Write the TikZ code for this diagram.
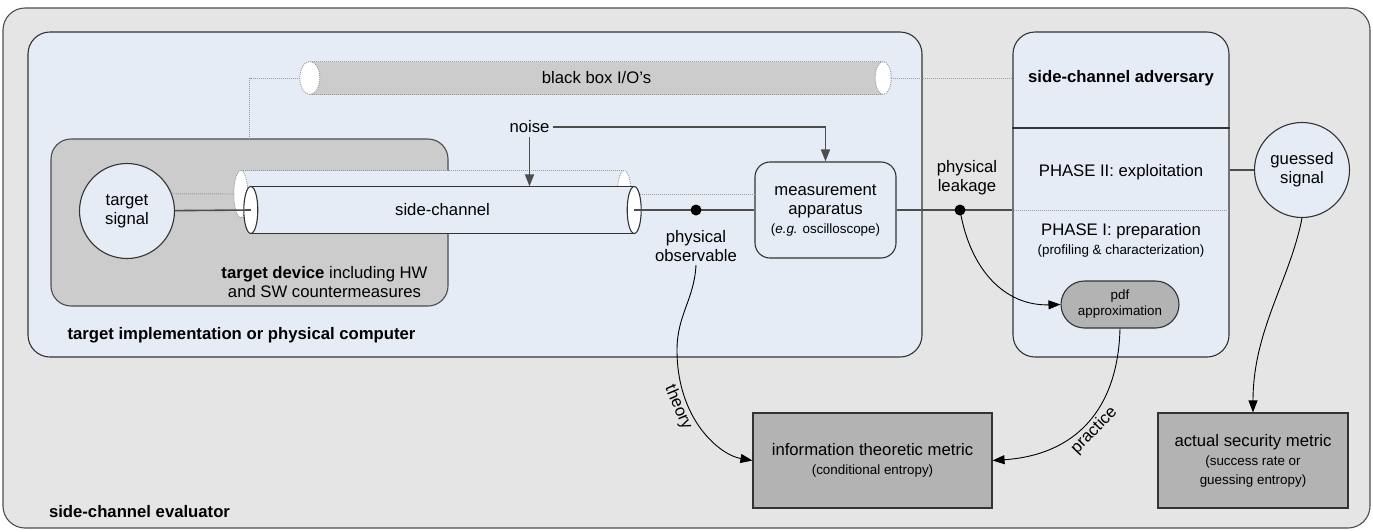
\documentclass[tikz,border=0pt]{standalone}
\usepackage{fontspec}
\setmainfont{Liberation Sans}
\usetikzlibrary{arrows.meta,calc}
\definecolor{evalgray}{HTML}{E5E5E5}
\definecolor{lblue}{HTML}{E6ECF6}
\definecolor{devgray}{HTML}{CCCCCC}
\definecolor{metgray}{HTML}{B3B3B3}
\definecolor{linec}{HTML}{333333}
\definecolor{conc}{HTML}{4D4D4D}
\definecolor{dotc}{HTML}{9A9A9A}
\newcommand\myfont{\fontsize{16.7}{19}\selectfont}
\newcommand\mysmall{\fontsize{13.4}{16}\selectfont}
\begin{document}
\begin{tikzpicture}[x=1pt,y=-1pt,
  every node/.style={font=\myfont, text=black},
  box/.style={draw=linec, line width=1.1pt, inner sep=0pt},
  con/.style={draw=conc, line width=1.6pt},
  dots/.style={draw=dotc, line width=0.9pt, dash pattern=on 1pt off 1pt},
  arr/.style={draw=black, line width=0.9pt, -{Triangle[length=12pt,width=9pt]}},
  conarr/.style={con, -{Triangle[length=12pt,width=9pt]}},
  tube/.style={inner sep=0pt, minimum width=383pt, minimum height=47pt},
  ]
\useasboundingbox (0,0) rectangle (1373,531);
% containers
\node[box, draw=conc, fill=evalgray, rounded corners=22pt, minimum width=1367pt, minimum height=520pt] (ev) at (686.5,268) {};
\node[box, fill=lblue, rounded corners=22pt, minimum width=894pt, minimum height=325pt] (ti) at (475,194.5) {};
\node[box, fill=lblue, rounded corners=22pt, minimum width=216pt, minimum height=325pt] (adv) at (1121,194.5) {};
\node[box, draw=conc, fill=devgray, rounded corners=20pt, minimum width=397pt, minimum height=167pt] (td) at (249.5,222.5) {};
% container labels
\node (evl) at (139.5,512) {\bfseries side-channel evaluator};
\node (til) at (241.5,335) {\bfseries target implementation or physical computer};
\node[align=center] (tdl) at (324.5,282.5) {\textbf{target device} including HW\\and SW countermeasures};
% adversary internals
\coordinate (d1) at (0,128);
\draw[linec, line width=1.1pt] (adv.west |- d1) -- (adv.east |- d1);
\node (advl) at (1121,78) {\bfseries side-channel adversary};
\node (ph2) at (1121,172) {PHASE II: exploitation};
\node[align=center] (ph1) at (1121,240) {PHASE I: preparation\\\mysmall(profiling \& characterization)};
% black box cylinder
\node[tube, fill=devgray, minimum width=573pt, minimum height=33pt] (bb) at (596.5,78) {black box I/O's};
\draw[dots] (bb.north west) -- (bb.north east) (bb.south west) -- (bb.south east);
\draw[dots] (bb.west) -| (td.north);
\draw[dots] (bb.east) -- (bb.east -| adv.west);
\draw[dots, fill=white] (bb.west) ellipse [x radius=10pt, y radius=16.5pt];
\draw[dots, fill=white] (bb.east) ellipse [x radius=8pt, y radius=16.5pt];
% main nodes
\node[box, circle, fill=lblue, minimum size=95pt, align=center] (ts) at (127,211) {target\\signal};
\node[box, fill=lblue, rounded corners=15pt, minimum width=141pt, minimum height=96pt, align=center] (ma) at (825.5,210) {measurement\\apparatus\\\mysmall(\textit{e.g.} oscilloscope)};
\node[box, circle, fill=lblue, minimum size=95pt, align=center] (gs) at (1302,170) {guessed\\signal};
\node[box, fill=metgray, rounded corners=23.5pt, minimum width=118pt, minimum height=47pt, align=center, font=\mysmall] (pdf) at (1120,304.5) {pdf\\approximation};
\node[box, fill=metgray, minimum width=239pt, minimum height=95pt, align=center] (im) at (872.5,460.5) {information theoretic metric\\\mysmall(conditional entropy)};
\node[box, fill=metgray, minimum width=190pt, minimum height=95pt, align=center] (as) at (1253,460.5) {actual security metric\\\mysmall(success rate or\\\mysmall guessing entropy)};
% ghost side-channel
\node[tube, fill=lblue] (scg) at (432.5,194) {};
\draw[dots] (scg.north west) -- (scg.north east) (scg.south west) -- (scg.south east);
\draw[dots] (ts.21) -- (scg.west);
\draw[dots] (scg.east) -- (scg.east -| ma.west);
\draw[dots, fill=white] (scg.west) ellipse [x radius=7pt, y radius=23.5pt];
\draw[dots, fill=white] (scg.east) ellipse [x radius=7pt, y radius=23.5pt];
% main side-channel
\node[tube, fill=lblue] (sc) at (442.5,210) {side-channel};
\draw[linec, line width=1.1pt] (sc.north west) -- (sc.north east) (sc.south west) -- (sc.south east);
\draw[linec, line width=1.1pt, fill=white] (sc.west) ellipse [x radius=7pt, y radius=23.5pt];
\draw[linec, line width=1.1pt, fill=white] (sc.east) ellipse [x radius=7pt, y radius=23.5pt];
% noise
\node (noise) at (529.5,127) {noise};
\draw[conarr] (noise.south) -- (noise.south |- sc.north);
\draw[conarr] (noise.east) -| (ma.north);
% connectors
\draw[con] (ts) -- (sc.west);
\coordinate (po) at (696,210);
\coordinate (pl) at (960,210);
\draw[con] (sc.east) -- (ma.west);
\draw[con] (ma.east) -- (ma.east -| adv.west);
\draw[dots] (adv.west |- pl) -- (adv.east |- pl);
\draw[con, line width=1.2pt] (gs.west) -- (gs.west -| adv.east);
\fill[black] (po) circle (5.5pt);
\fill[black] (pl) circle (5.5pt);
\node[align=center] (pol) at (696,246) {physical\\observable};
\node[align=center] (pll) at (967,177.5) {physical\\leakage};
% curved arrows
\draw[arr] (pl) .. controls (970,270) and (1005,306) .. (pdf.west);
\draw[arr] (gs.south) .. controls (1290,280) and (1253,330) .. (as.north);
\draw[arr] (pol.south) .. controls (694,300) and (677,315) .. (677,350)
  .. controls (677,420) and (720,455) .. (im.west)
  node[pos=0.3, sloped, below, inner sep=1.5pt] {theory};
\draw[arr] (pdf.south) .. controls (1118,410) and (1075,455) .. (im.east)
  node[pos=0.5, sloped, below, inner sep=2.5pt] {practice};
\end{tikzpicture}
\end{document}
